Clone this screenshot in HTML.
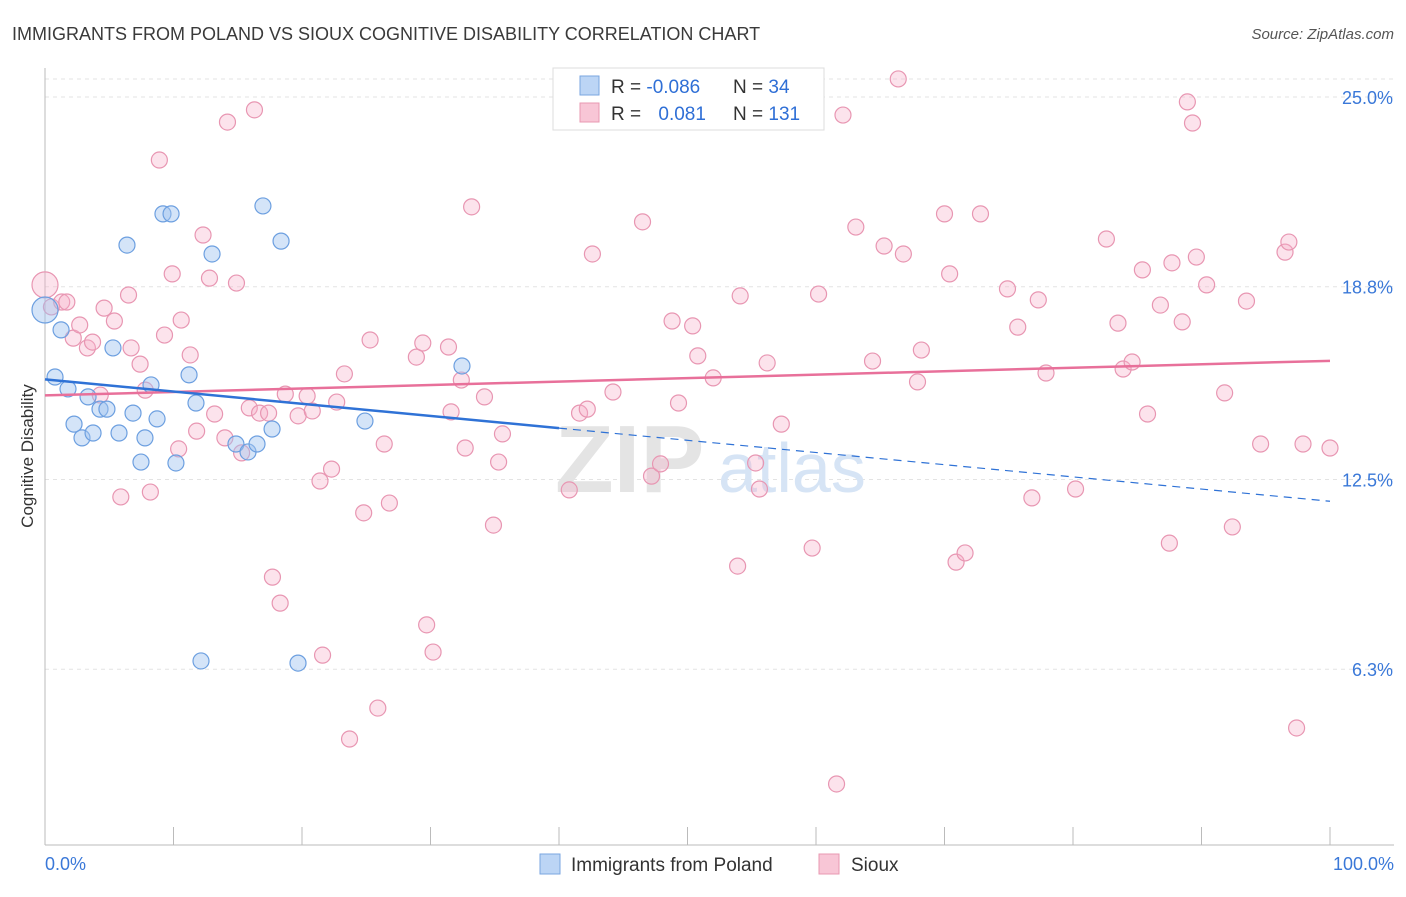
<!DOCTYPE html>
<html><head><meta charset="utf-8"><style>
body{margin:0;background:#fff;font-family:"Liberation Sans",sans-serif}
svg text{font-family:"Liberation Sans",sans-serif}
</style></head><body>
<svg id="chart" width="1406" height="892" viewBox="0 0 1406 892" xmlns="http://www.w3.org/2000/svg">
<text x="12" y="40" font-size="18" fill="#3a3a3a">IMMIGRANTS FROM POLAND VS SIOUX COGNITIVE DISABILITY CORRELATION CHART</text>
<text x="1394" y="39" font-size="15" fill="#555" text-anchor="end" font-style="italic">Source: ZipAtlas.com</text>
<text x="33" y="456" font-size="17" fill="#333" text-anchor="middle" transform="rotate(-90 33 456)">Cognitive Disability</text>
<g id="grid"></g>
<text x="555" y="492" font-size="96" fill="#e4e4e4" font-family="Liberation Serif" font-weight="bold">ZIP</text>
<text x="718" y="492" font-size="70" fill="#d6e4f5">atlas</text>
<g id="lines"></g>
<g id="points"></g>
<g id="trend"></g>
<g>
<rect x="553" y="68" width="271" height="62" fill="#fff" stroke="#ddd"/>
<rect x="580" y="76" width="19" height="19" fill="#bcd5f5" stroke="#7aa6e0"/>
<rect x="580" y="103" width="19" height="19" fill="#f8c6d6" stroke="#e898b2"/>
<text x="611" y="93" font-size="19" fill="#333">R = <tspan fill="#2f6fd6">-0.086</tspan></text>
<text x="733" y="93" font-size="19" fill="#333">N = <tspan fill="#2f6fd6">34</tspan></text>
<text x="611" y="120" font-size="19" fill="#333">R = <tspan fill="#2f6fd6" dx="12">0.081</tspan></text>
<text x="733" y="120" font-size="19" fill="#333">N = <tspan fill="#2f6fd6">131</tspan></text>
</g>
<g>
<rect x="540" y="854" width="20" height="20" fill="#bcd5f5" stroke="#7aa6e0"/>
<text x="571" y="871" font-size="19" fill="#333">Immigrants from Poland</text>
<rect x="819" y="854" width="20" height="20" fill="#f8c6d6" stroke="#e898b2"/>
<text x="851" y="871" font-size="19" fill="#333">Sioux</text>
</g>
<text x="45" y="870" font-size="18" fill="#3a78d8">0.0%</text>
<text x="1394" y="870" font-size="18" fill="#3a78d8" text-anchor="end">100.0%</text>
</svg>
<script>
const yTicks=[25.0,18.8,12.5,6.3];
const yTickLabels=["25.0%","18.8%","12.5%","6.3%"];
const xTicks=[0,10,20,30,40,50,60,70,80,90,100];
const polandX=[0,0.78,1.25,1.79,2.26,2.88,3.35,3.74,4.28,4.82,5.29,5.76,6.38,6.85,7.47,7.78,8.25,8.72,9.18,9.81,10.19,11.21,11.75,12.14,13.0,14.86,15.8,16.5,16.96,17.67,18.37,19.69,24.9,32.45];
const polandY=[18.04,15.85,17.39,15.46,14.31,13.86,15.2,14.02,14.8,14.8,16.8,14.02,20.16,14.67,13.07,13.86,15.59,14.48,21.18,21.18,13.04,15.92,15.0,6.57,19.87,13.66,13.4,13.66,21.44,14.15,20.29,6.5,14.41,16.21];
const siouxX=[0,0.5,1.3,1.7,2.2,2.7,3.3,3.7,4.3,4.6,5.4,5.9,6.5,6.7,7.4,7.8,8.2,8.9,9.3,9.9,10.4,10.6,11.3,11.8,12.3,12.8,13.2,14.0,14.2,14.9,15.3,15.9,16.3,16.7,17.4,17.7,18.3,18.7,19.7,20.4,20.8,21.4,21.6,22.3,22.7,23.3,23.7,24.8,25.3,25.9,26.4,26.8,28.9,29.4,29.7,30.2,31.4,31.6,32.4,32.7,33.2,34.2,34.9,35.3,35.6,40.8,41.6,42.2,42.6,44.2,46.5,47.2,47.9,48.8,49.3,50.4,50.8,52.0,53.9,54.1,55.3,55.6,56.2,57.3,59.7,60.2,61.6,62.1,63.1,64.4,65.3,66.4,66.8,67.9,68.2,70.0,70.4,70.9,71.6,72.8,74.9,75.7,76.8,77.3,77.9,80.2,82.6,83.5,83.9,84.6,85.4,85.8,86.8,87.5,87.7,88.5,88.9,89.3,89.6,90.4,91.8,92.4,93.5,94.6,96.5,96.8,97.4,97.9,100];
const siouxY=[18.86,18.14,18.3,18.3,17.12,17.55,16.8,16.99,15.26,18.1,17.68,11.93,18.53,16.8,16.27,15.42,12.09,22.94,17.22,19.22,13.5,17.71,16.57,14.08,20.49,19.08,14.64,13.86,24.18,18.92,13.37,14.84,24.58,14.67,14.67,9.31,8.46,15.29,14.58,15.23,14.74,12.45,6.76,12.84,15.03,15.95,4.02,11.41,17.06,5.03,13.66,11.73,16.5,16.96,7.75,6.86,16.83,14.71,15.75,13.53,21.41,15.2,11.01,13.07,13.99,12.16,14.67,14.8,19.87,15.36,20.92,12.61,13.01,17.68,15.0,17.52,16.54,15.82,9.67,18.5,13.04,12.19,16.31,14.31,10.26,18.56,2.55,24.41,20.75,16.37,20.13,25.59,19.87,15.69,16.73,21.18,19.22,9.8,10.1,21.18,18.73,17.48,11.9,18.37,15.98,12.19,20.36,17.61,16.11,16.34,19.35,14.64,18.2,10.42,19.58,17.65,24.84,24.15,19.77,18.86,15.33,10.95,18.33,13.66,19.93,20.26,4.38,13.66,13.53];

const NS="http://www.w3.org/2000/svg";
const X0=45,X1=1330,YTOP=97,YSCALE=30.6;
function sx(v){return X0+(X1-X0)*v/100;}
function sy(v){return YTOP+(25-v)*YSCALE;}
function mk(tag,attrs,parent){const e=document.createElementNS(NS,tag);for(const k in attrs)e.setAttribute(k,attrs[k]);parent.appendChild(e);return e;}
const grid=document.getElementById('grid');
mk('line',{x1:45,x2:1394,y1:79,y2:79,stroke:'#e3e3e3','stroke-dasharray':'4,4'},grid);
yTicks.forEach((t,i)=>{
  const l=mk('line',{x1:45,x2:1394,y1:sy(t),y2:sy(t),stroke:'#e3e3e3','stroke-dasharray':'4,4'},grid);
  
  
  const tx=mk('text',{x:1393,y:sy(t)+7,'font-size':18,fill:'#3a78d8','text-anchor':'end'},grid);
  tx.textContent=yTickLabels[i];
  
  
});
const lines=document.getElementById('lines');
const ax=mk('line',{x1:45,x2:1394,y1:845,y2:845,stroke:'#bbb'},lines);


const ay=mk('line',{x1:45,x2:45,y1:68,y2:845,stroke:'#bbb'},lines);


xTicks.forEach(t=>{
  const l=mk('line',{x1:sx(t),x2:sx(t),y1:827,y2:845,stroke:'#bbb'},lines);
  
  
});
const pts=document.getElementById('points');
function drawSeries(xs,ys,fill,stroke,name){
  xs.forEach((x,i)=>{
    const big=(x===0);
    const c=mk('circle',{cx:sx(x),cy:sy(ys[i]),r:big?13:8,fill:fill,stroke:stroke,'stroke-width':1.2},pts);
    
    
  });
}
drawSeries(siouxX,siouxY,'rgba(246,176,200,0.35)','#e896b2','point-sioux');
drawSeries(polandX,polandY,'rgba(160,196,240,0.45)','#6c9fe0','point-poland');
function fit(xs,ys){const n=xs.length;let mx=0,my=0;xs.forEach((x,i)=>{mx+=x;my+=ys[i];});mx/=n;my/=n;let sxy=0,sxx=0;xs.forEach((x,i)=>{sxy+=(x-mx)*(ys[i]-my);sxx+=(x-mx)*(x-mx);});const b=sxy/sxx;return [my-b*mx,b];}
const tr=document.getElementById('trend');
const [pa,pb]=fit(siouxX,siouxY);
const l1=mk('line',{x1:sx(0),y1:sy(pa),x2:sx(100),y2:sy(pa+pb*100),stroke:'#e8709a','stroke-width':2.5},tr);


const [ba,bb]=fit(polandX,polandY);
const xe=40;
const l2=mk('line',{x1:sx(0),y1:sy(ba),x2:sx(xe),y2:sy(ba+bb*xe),stroke:'#2f72d6','stroke-width':2.5},tr);


const l3=mk('line',{x1:sx(xe),y1:sy(ba+bb*xe),x2:sx(100),y2:sy(ba+bb*100),stroke:'#2f72d6','stroke-width':1.2,'stroke-dasharray':'8,6'},tr);


</script>
</body></html>
